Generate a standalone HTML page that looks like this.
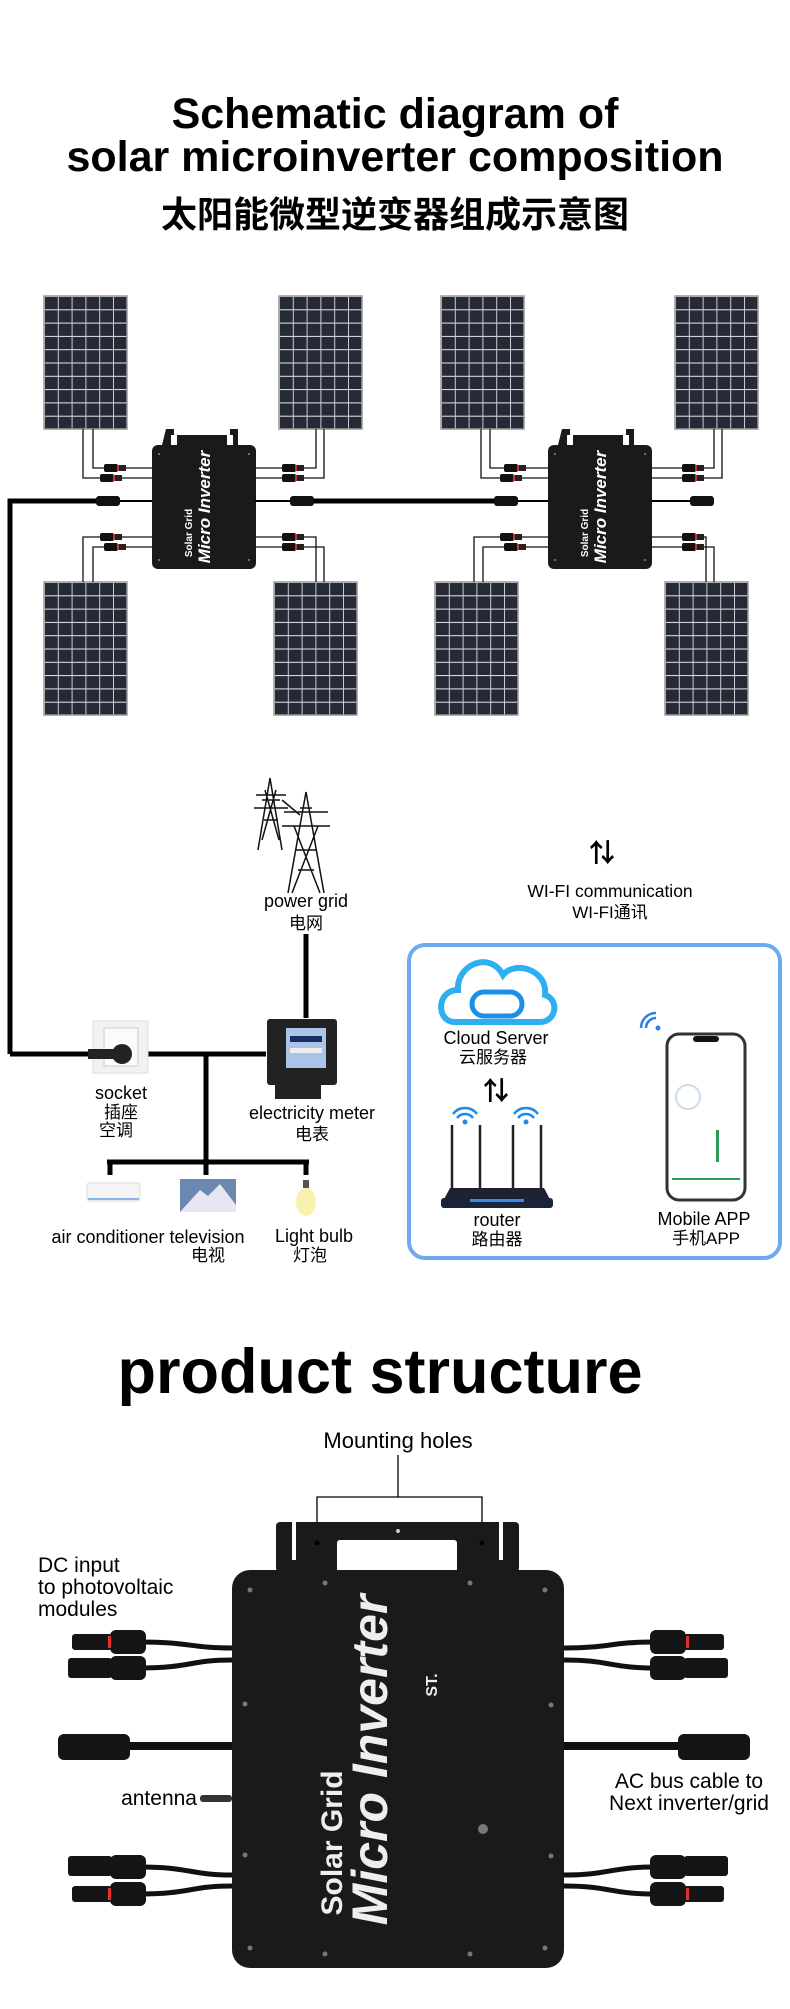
<!DOCTYPE html>
<html><head><meta charset="utf-8"><style>
html,body{margin:0;padding:0;background:#fff}
svg{display:block}
text{font-family:"Liberation Sans","Noto Sans CJK SC",sans-serif}
</style></head><body>
<svg width="790" height="2009" viewBox="0 0 790 2009" xmlns="http://www.w3.org/2000/svg">
<defs>
<pattern id="cells" x="0" y="0" width="13.8" height="13.3" patternUnits="userSpaceOnUse">
<rect width="13.8" height="13.3" fill="#262a36"/>
<rect x="0" y="0" width="13.8" height="1" fill="#e8e8ee"/>
<rect x="0" y="0" width="1" height="13.3" fill="#c9cbd3"/>
</pattern>
<g id="panel"><rect x="0" y="0" width="83" height="133" fill="url(#cells)" stroke="#999" stroke-width="1.5"/></g>
<g id="conn"><rect x="0" y="-4" width="14" height="8" rx="2" fill="#111"/><rect x="14" y="-3" width="8" height="6" fill="#222"/><rect x="13" y="-3" width="2" height="6" fill="#c33"/></g>
<g id="inv">
<path d="M14 -16 h8 v6 h-3 v10 h6 v-10 h50 v10 h6 v-10 h-3 v-6 h8 v16 h-76z" fill="#1a1a1a"/>
<rect x="0" y="0" width="104" height="124" rx="6" fill="#1a1a1a"/>
<text transform="translate(58 62) rotate(-90)" text-anchor="middle" font-size="17" font-weight="bold" font-style="italic" fill="#fff">Micro Inverter</text>
<text transform="translate(40 88) rotate(-90)" text-anchor="middle" font-size="10" font-weight="bold" fill="#fff">Solar Grid</text>
<circle cx="7" cy="9" r="1" fill="#888"/><circle cx="97" cy="9" r="1" fill="#888"/><circle cx="7" cy="115" r="1" fill="#888"/><circle cx="97" cy="115" r="1" fill="#888"/>
</g>
</defs>

<!-- title -->
<text x="395" y="128" text-anchor="middle" font-size="43" font-weight="bold" fill="#000">Schematic diagram of</text>
<text x="395" y="171" text-anchor="middle" font-size="43" font-weight="bold" fill="#000">solar microinverter composition</text>
<text x="395" y="227" text-anchor="middle" font-size="36" font-weight="bold" fill="#000">太阳能微型逆变器组成示意图</text>

<!-- panels -->
<use href="#panel" x="44" y="296"/><use href="#panel" x="279" y="296"/>
<use href="#panel" x="441" y="296"/><use href="#panel" x="675" y="296"/>
<use href="#panel" x="44" y="582"/><use href="#panel" x="274" y="582"/>
<use href="#panel" x="435" y="582"/><use href="#panel" x="665" y="582"/>

<!-- panel wires -->
<g fill="none" stroke="#111" stroke-width="1.3">
<path d="M83 429 V478 H152"/><path d="M93 429 V468 H152"/>
<path d="M316 429 V468 H255"/><path d="M324 429 V478 H255"/>
<path d="M83 582 V537 H152"/><path d="M93 582 V547 H152"/>
<path d="M316 582 V537 H255"/><path d="M324 582 V547 H255"/>
<path d="M481 429 V478 H548"/><path d="M490 429 V468 H548"/>
<path d="M714 429 V468 H652"/><path d="M722 429 V478 H652"/>
<path d="M474 582 V537 H548"/><path d="M483 582 V547 H548"/>
<path d="M706 582 V537 H652"/><path d="M714 582 V547 H652"/>
</g>
<use href="#conn" x="104" y="468"/><use href="#conn" x="100" y="478"/>
<use href="#conn" x="282" y="468"/><use href="#conn" x="282" y="478"/>
<use href="#conn" x="100" y="537"/><use href="#conn" x="104" y="547"/>
<use href="#conn" x="282" y="537"/><use href="#conn" x="282" y="547"/>
<use href="#conn" x="504" y="468"/><use href="#conn" x="500" y="478"/>
<use href="#conn" x="682" y="468"/><use href="#conn" x="682" y="478"/>
<use href="#conn" x="500" y="537"/><use href="#conn" x="504" y="547"/>
<use href="#conn" x="682" y="537"/><use href="#conn" x="682" y="547"/>

<!-- inverters -->
<use href="#inv" x="152" y="445"/><use href="#inv" x="548" y="445"/>

<!-- AC bus -->
<g stroke="#000" fill="none">
<path d="M10 1054 V501 H98" stroke-width="5"/>
<path d="M98 501 H152" stroke-width="2"/>
<path d="M255 501 H300" stroke-width="2"/>
<path d="M310 501 H495" stroke-width="5"/>
<path d="M505 501 H548" stroke-width="2"/>
<path d="M652 501 H695" stroke-width="2"/>
</g>
<rect x="96" y="496" width="24" height="10" rx="3" fill="#111"/>
<rect x="290" y="496" width="24" height="10" rx="3" fill="#111"/>
<rect x="494" y="496" width="24" height="10" rx="3" fill="#111"/>
<rect x="690" y="496" width="24" height="10" rx="3" fill="#111"/>

<!-- power grid tower -->
<g stroke="#111" stroke-width="1.5" fill="none">
<path d="M258 850 L270 778 L282 850 M264 820 L278 820 M262 800 L280 800 M256 795 H286 M254 808 H288 M265 790 L279 840 M276 790 L262 840"/>
<path d="M288 893 L306 792 L324 893 M296 850 L316 850 M298 870 L314 870 M284 812 H328 M282 826 H330 M294 826 L320 893 M318 826 L292 893 M300 808 L312 808"/>
<path d="M282 800 L300 815"/>
</g>
<text x="306" y="907" text-anchor="middle" font-size="18" fill="#000">power grid</text>
<text x="306" y="929" text-anchor="middle" font-size="17" fill="#000">电网</text>
<path d="M306 934 V1018" stroke="#000" stroke-width="5"/>

<!-- meter -->
<rect x="267" y="1019" width="70" height="66" rx="3" fill="#222"/>
<rect x="286" y="1028" width="40" height="40" fill="#a9c4e6"/>
<rect x="290" y="1036" width="32" height="6" fill="#1a2a66"/>
<rect x="290" y="1048" width="32" height="5" fill="#eee"/>
<rect x="275" y="1085" width="46" height="14" fill="#222"/>
<text x="312" y="1119" text-anchor="middle" font-size="18" fill="#000">electricity meter</text>
<text x="312" y="1140" text-anchor="middle" font-size="17" fill="#000">电表</text>

<!-- socket -->
<path d="M10 1054 H266" stroke="#000" stroke-width="5"/>
<rect x="93" y="1021" width="55" height="52" fill="#f2f2f2" stroke="#ddd"/>
<rect x="104" y="1028" width="34" height="38" fill="#fbfbfb" stroke="#ccc"/>
<circle cx="122" cy="1054" r="10" fill="#222"/>
<rect x="88" y="1049" width="26" height="10" fill="#222"/>
<text x="121" y="1099" text-anchor="middle" font-size="18" fill="#000">socket</text>
<text x="121" y="1118" text-anchor="middle" font-size="17" fill="#000">插座</text>
<text x="116" y="1136" text-anchor="middle" font-size="17" fill="#000">空调</text>

<!-- branches -->
<g stroke="#000" stroke-width="5" fill="none">
<path d="M206 1054 V1162"/><path d="M107 1162 H309"/>
<path d="M110 1162 V1175"/><path d="M206 1162 V1175"/><path d="M306 1162 V1175"/>
</g>
<rect x="87" y="1183" width="53" height="18" rx="2" fill="#f4f4f4" stroke="#ddd"/>
<rect x="88" y="1198" width="51" height="2" fill="#8ab4e6"/>
<rect x="180" y="1179" width="56" height="33" fill="#6a88b0"/>
<path d="M180 1212 L200 1190 L208 1196 L220 1184 L236 1205 V1212z" fill="#e8e6f2"/>
<ellipse cx="306" cy="1202" rx="10" ry="14" fill="#f7f0a0" opacity="0.85"/>
<rect x="303" y="1180" width="6" height="8" fill="#555"/>
<text x="148" y="1243" text-anchor="middle" font-size="18" fill="#000">air conditioner television</text>
<text x="314" y="1242" text-anchor="middle" font-size="18" fill="#000">Light bulb</text>
<text x="208" y="1261" text-anchor="middle" font-size="17" fill="#000">电视</text>
<text x="310" y="1261" text-anchor="middle" font-size="17" fill="#000">灯泡</text>

<!-- wifi comm -->
<text x="602" y="862" text-anchor="middle" font-size="26" font-weight="bold" fill="#000">⇅</text>
<text x="610" y="897" text-anchor="middle" font-size="17.5" fill="#000">WI-FI communication</text>
<text x="610" y="918" text-anchor="middle" font-size="17" fill="#000">WI-FI通讯</text>

<rect x="409" y="945" width="371" height="313" rx="16" fill="#fff" stroke="#6eaaee" stroke-width="4"/>
<!-- cloud -->
<path d="M455 1022 C436 1022 436 990 458 990 C456 965 490 950 503 975 C515 960 548 970 545 995 C560 1000 556 1022 540 1022 Z" fill="none" stroke="#2eaff0" stroke-width="6"/>
<rect x="472" y="992" width="50" height="24" rx="12" fill="none" stroke="#1a90e8" stroke-width="5"/>
<text x="496" y="1044" text-anchor="middle" font-size="18" fill="#000">Cloud Server</text>
<text x="493" y="1063" text-anchor="middle" font-size="17" fill="#000">云服务器</text>
<text x="496" y="1100" text-anchor="middle" font-size="26" font-weight="bold" fill="#000">⇅</text>
<!-- router -->
<g stroke="#222" stroke-width="2.5"><path d="M452 1125 V1190"/><path d="M480 1125 V1190"/><path d="M513 1125 V1190"/><path d="M541 1125 V1190"/></g>
<path d="M441 1205 L450 1188 H544 L553 1205 Z" fill="#1d2230"/>
<rect x="441" y="1198" width="112" height="10" rx="3" fill="#1a2438"/>
<rect x="470" y="1199" width="54" height="3" fill="#3a8be8"/>
<g fill="none" stroke="#1a8cf0" stroke-width="2.5"><path d="M457 1118 a10 10 0 0 1 16 0"/><path d="M453 1114 a15 15 0 0 1 24 0"/><path d="M518 1118 a10 10 0 0 1 16 0"/><path d="M514 1114 a15 15 0 0 1 24 0"/></g>
<circle cx="465" cy="1122" r="2.5" fill="#1a8cf0"/><circle cx="526" cy="1122" r="2.5" fill="#1a8cf0"/>
<text x="497" y="1226" text-anchor="middle" font-size="18" fill="#000">router</text>
<text x="497" y="1245" text-anchor="middle" font-size="17" fill="#000">路由器</text>
<!-- phone -->
<rect x="667" y="1034" width="78" height="166" rx="12" fill="#fff" stroke="#333" stroke-width="3"/>
<rect x="693" y="1036" width="26" height="6" rx="3" fill="#111"/>
<circle cx="688" cy="1097" r="12" fill="none" stroke="#cde" stroke-width="2"/>
<rect x="716" y="1130" width="3" height="32" fill="#2a9a5a"/>
<rect x="672" y="1178" width="68" height="2" fill="#2a9a5a"/>
<g fill="none" stroke="#2a80e8" stroke-width="2.5"><path d="M646 1028 a10 10 0 0 1 10 -10"/><path d="M641 1028 a15 15 0 0 1 15 -15"/></g>
<circle cx="658" cy="1028" r="2.5" fill="#2a80e8"/>
<text x="704" y="1225" text-anchor="middle" font-size="18" fill="#000">Mobile APP</text>
<text x="706" y="1244" text-anchor="middle" font-size="17" fill="#000">手机APP</text>

<!-- product structure -->
<text x="380" y="1393" text-anchor="middle" font-size="63" font-weight="bold" fill="#000">product structure</text>
<text x="398" y="1448" text-anchor="middle" font-size="22" fill="#000">Mounting holes</text>
<path d="M398 1455 V1497 M317 1543 V1497 H482 V1543" stroke="#000" stroke-width="1.3" fill="none"/>

<text x="38" y="1572" font-size="21" fill="#000">DC input</text>
<text x="38" y="1594" font-size="21" fill="#000">to photovoltaic</text>
<text x="38" y="1616" font-size="21" fill="#000">modules</text>
<text x="197" y="1805" text-anchor="end" font-size="21" fill="#000">antenna</text>
<rect x="200" y="1795" width="32" height="7" rx="3" fill="#333"/>
<text x="689" y="1788" text-anchor="middle" font-size="21" fill="#000">AC bus cable to</text>
<text x="689" y="1810" text-anchor="middle" font-size="21" fill="#000">Next inverter/grid</text>

<!-- cables -->
<g stroke="#111" stroke-width="5" fill="none">
<path d="M140 1642 C190 1642 190 1648 232 1648"/><path d="M140 1668 C190 1668 190 1660 232 1660"/>
<path d="M140 1867 C190 1867 190 1875 232 1875"/><path d="M140 1894 C190 1894 190 1886 232 1886"/>
<path d="M564 1648 C610 1648 610 1642 655 1642"/><path d="M564 1660 C610 1660 610 1668 655 1668"/>
<path d="M564 1875 C610 1875 610 1867 655 1867"/><path d="M564 1886 C610 1886 610 1894 655 1894"/>
<path d="M125 1746 H232" stroke-width="8"/><path d="M564 1746 H682" stroke-width="8"/>
</g>
<g fill="#151515">
<rect x="72" y="1634" width="40" height="16" rx="3"/><rect x="110" y="1630" width="36" height="24" rx="6"/>
<rect x="68" y="1658" width="44" height="20" rx="3"/><rect x="110" y="1656" width="36" height="24" rx="6"/>
<rect x="68" y="1856" width="44" height="20" rx="3"/><rect x="110" y="1855" width="36" height="24" rx="6"/>
<rect x="72" y="1886" width="40" height="16" rx="3"/><rect x="110" y="1882" width="36" height="24" rx="6"/>
<rect x="650" y="1630" width="36" height="24" rx="6"/><rect x="684" y="1634" width="40" height="16" rx="3"/>
<rect x="650" y="1656" width="36" height="24" rx="6"/><rect x="684" y="1658" width="44" height="20" rx="3"/>
<rect x="650" y="1855" width="36" height="24" rx="6"/><rect x="684" y="1856" width="44" height="20" rx="3"/>
<rect x="650" y="1882" width="36" height="24" rx="6"/><rect x="684" y="1886" width="40" height="16" rx="3"/>
<rect x="58" y="1734" width="72" height="26" rx="6"/>
<rect x="678" y="1734" width="72" height="26" rx="6"/>
</g>
<g fill="#e03030"><rect x="108" y="1636" width="3" height="12"/><rect x="108" y="1888" width="3" height="12"/><rect x="686" y="1636" width="3" height="12"/><rect x="686" y="1888" width="3" height="12"/></g>

<!-- big inverter -->
<rect x="276" y="1522" width="243" height="50" rx="4" fill="#1a1a1a"/>
<rect x="337" y="1540" width="120" height="32" rx="3" fill="#fff"/>
<rect x="292" y="1522" width="4" height="38" fill="#fff"/><rect x="499" y="1522" width="4" height="38" fill="#fff"/>
<circle cx="317" cy="1543" r="2.5" fill="#000"/><circle cx="482" cy="1543" r="2.5" fill="#000"/>
<circle cx="398" cy="1531" r="2" fill="#ccc"/>
<rect x="232" y="1570" width="332" height="398" rx="18" fill="#1a1a1a"/>
<g fill="#777"><circle cx="250" cy="1590" r="2.5"/><circle cx="325" cy="1583" r="2.5"/><circle cx="470" cy="1583" r="2.5"/><circle cx="545" cy="1590" r="2.5"/>
<circle cx="245" cy="1704" r="2.5"/><circle cx="551" cy="1705" r="2.5"/><circle cx="245" cy="1855" r="2.5"/><circle cx="551" cy="1856" r="2.5"/>
<circle cx="250" cy="1948" r="2.5"/><circle cx="325" cy="1954" r="2.5"/><circle cx="470" cy="1954" r="2.5"/><circle cx="545" cy="1948" r="2.5"/></g>
<circle cx="483" cy="1829" r="5" fill="#777"/>
<text transform="translate(387 1760) rotate(-90)" text-anchor="middle" font-size="50" font-weight="bold" font-style="italic" fill="#eee">Micro Inverter</text>
<text transform="translate(342 1843) rotate(-90)" text-anchor="middle" font-size="30" font-weight="bold" fill="#eee">Solar Grid</text>
<text transform="translate(437 1685) rotate(-90)" text-anchor="middle" font-size="16" font-weight="bold" fill="#eee">ST.</text>
</svg>
</body></html>
